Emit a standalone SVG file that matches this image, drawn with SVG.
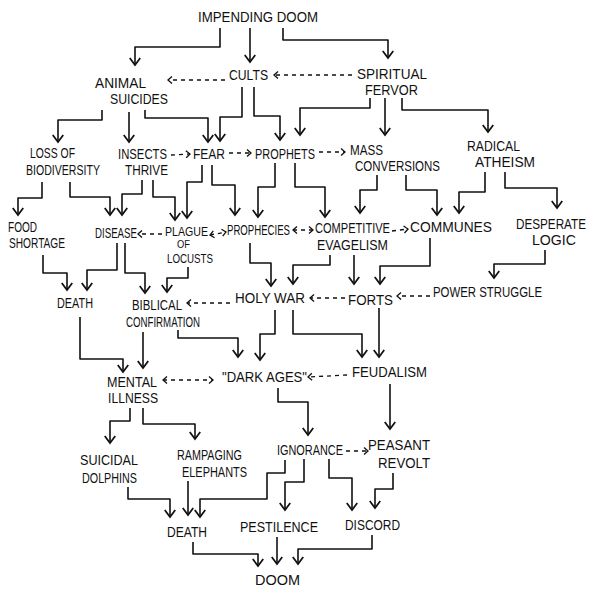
<svg xmlns="http://www.w3.org/2000/svg" width="600" height="602" viewBox="0 0 600 602">
<style>
text{font-family:"Liberation Sans","DejaVu Sans",sans-serif;font-size:14px;fill:#111;}
.s{font-size:13px;}
.xs{font-size:11px;}
.c{fill:none;stroke:#111;stroke-width:1.6;stroke-linejoin:round;marker-end:url(#ah);}
.d{fill:none;stroke:#111;stroke-width:1.3;stroke-dasharray:4 4;marker-end:url(#sh);}
.dd{marker-start:url(#sh);}
</style>
<defs>
<marker id="ah" markerUnits="userSpaceOnUse" markerWidth="14" markerHeight="14" viewBox="-8 -6 10 12" refX="0" refY="0" orient="auto" overflow="visible"><path d="M-6,-4.5 L0,0 L-6,4.5" fill="none" stroke="#111" stroke-width="1.5"/></marker>
<marker id="sh" markerUnits="userSpaceOnUse" markerWidth="10" markerHeight="10" viewBox="-6 -5 8 10" refX="0" refY="0" orient="auto-start-reverse" overflow="visible"><path d="M-4,-3.5 L0,0 L-4,3.5" fill="none" stroke="#111" stroke-width="1.3"/></marker>
</defs>
<rect width="600" height="602" fill="#fff"/>
<g id="connectors">
<path class="c" d="M220,28 V47 H135 V65"/>
<path class="c" d="M250,28 V62"/>
<path class="c" d="M283,28 V40 H388 V58"/>
<path class="c" d="M102,110 V120 H58 V142"/>
<path class="c" d="M129,112 V142"/>
<path class="c" d="M145,110 V118 H208 V142"/>
<path class="c" d="M242,87 V117 H220 V141"/>
<path class="c" d="M254,87 V116 H280 V140"/>
<path class="c" d="M370,98 V108 H300 V135"/>
<path class="c" d="M385,98 V135"/>
<path class="c" d="M402,98 V110 H488 V132"/>
<path class="c" d="M42,182 V198 H18 V215"/>
<path class="c" d="M70,182 V197 H110 V215"/>
<path class="c" d="M142,180 V194 H122 V215"/>
<path class="c" d="M153,180 V197 H175 V220"/>
<path class="c" d="M202,165 V182 H187 V218"/>
<path class="c" d="M212,165 V185 H235 V215"/>
<path class="c" d="M275,163 V187 H258 V217"/>
<path class="c" d="M295,163 V187 H325 V217"/>
<path class="c" d="M377,175 V190 H360 V213"/>
<path class="c" d="M406,175 V190 H437 V215"/>
<path class="c" d="M485,172 V192 H459 V213"/>
<path class="c" d="M505,172 V188 H557 V208"/>
<path class="c" d="M43,255 V273 H67 V290"/>
<path class="c" d="M117,243 V270 H87 V290"/>
<path class="c" d="M125,243 V273 H145 V293"/>
<path class="c" d="M188,267 V278 H167 V292"/>
<path class="c" d="M250,243 V263 H271 V286"/>
<path class="c" d="M330,255 V265 H293 V284"/>
<path class="c" d="M354,255 V284"/>
<path class="c" d="M430,238 V266 H380 V284"/>
<path class="c" d="M545,250 V264 H494 V278"/>
<path class="c" d="M80,317 V359 H123 V372"/>
<path class="c" d="M143,332 V368"/>
<path class="c" d="M178,330 V338 H238 V357"/>
<path class="c" d="M275,310 V334 H260 V360"/>
<path class="c" d="M293,310 V334 H362 V357"/>
<path class="c" d="M379,308 V357"/>
<path class="c" d="M130,408 V421 H110 V443"/>
<path class="c" d="M143,408 V424 H195 V439"/>
<path class="c" d="M278,388 V402 H308 V435"/>
<path class="c" d="M390,384 V429"/>
<path class="c" d="M128,487 V499 H170 V517"/>
<path class="c" d="M188,481 V515"/>
<path class="c" d="M285,460 V473 H267 V499 H200 V517"/>
<path class="c" d="M304,459 V482 H285 V510"/>
<path class="c" d="M329,459 V478 H352 V510"/>
<path class="c" d="M393,473 V489 H375 V508"/>
<path class="c" d="M193,542 V554 H258 V566"/>
<path class="c" d="M277,537 V564"/>
<path class="c" d="M372,535 V549 H298 V564"/>
<path class="d" d="M352,75 H274"/>
<path class="d" d="M225,80 H168"/>
<path class="d" d="M171,155 L190,154"/>
<path class="d" d="M229,153 H251"/>
<path class="d" d="M319,152 H345"/>
<path class="d" d="M162,234 H138"/>
<path class="d dd" d="M210,235 L226,232"/>
<path class="d dd" d="M293,230 H313"/>
<path class="d" d="M392,231 L408,229"/>
<path class="d" d="M230,303 H187"/>
<path class="d" d="M345,298 H310"/>
<path class="d" d="M430,296 H397"/>
<path class="d dd" d="M163,380 H213"/>
<path class="d" d="M347,375 L308,377"/>
<path class="d" d="M346,451 H368"/>
</g>
<g id="impending-doom"><text x="198" y="22" textLength="120" lengthAdjust="spacingAndGlyphs">IMPENDING DOOM</text></g>
<g id="cults"><text x="229" y="80" textLength="39" lengthAdjust="spacingAndGlyphs">CULTS</text></g>
<g id="animal-suicides"><text x="95" y="88" textLength="51" lengthAdjust="spacingAndGlyphs">ANIMAL</text><text x="110" y="104" textLength="58" lengthAdjust="spacingAndGlyphs">SUICIDES</text></g>
<g id="spiritual-fervor"><text x="357" y="79" textLength="70" lengthAdjust="spacingAndGlyphs">SPIRITUAL</text><text x="365" y="95" textLength="53" lengthAdjust="spacingAndGlyphs">FERVOR</text></g>
<g id="loss-of-biodiversity"><text x="30" y="158" textLength="45" lengthAdjust="spacingAndGlyphs">LOSS OF</text><text x="26" y="175" textLength="74" lengthAdjust="spacingAndGlyphs">BIODIVERSITY</text></g>
<g id="insects-thrive"><text x="118" y="159" textLength="49" lengthAdjust="spacingAndGlyphs">INSECTS</text><text x="125" y="175" textLength="43" lengthAdjust="spacingAndGlyphs">THRIVE</text></g>
<g id="fear"><text x="193" y="159" textLength="32" lengthAdjust="spacingAndGlyphs">FEAR</text></g>
<g id="prophets"><text x="255" y="159" textLength="60" lengthAdjust="spacingAndGlyphs">PROPHETS</text></g>
<g id="mass-conversions"><text x="350" y="155" textLength="33" lengthAdjust="spacingAndGlyphs">MASS</text><text x="355" y="171" textLength="85" lengthAdjust="spacingAndGlyphs">CONVERSIONS</text></g>
<g id="radical-atheism"><text x="467" y="151" textLength="53" lengthAdjust="spacingAndGlyphs">RADICAL</text><text x="475" y="167" textLength="60" lengthAdjust="spacingAndGlyphs">ATHEISM</text></g>
<g id="food-shortage"><text x="8" y="232" textLength="29" lengthAdjust="spacingAndGlyphs">FOOD</text><text x="9" y="248" textLength="56" lengthAdjust="spacingAndGlyphs">SHORTAGE</text></g>
<g id="disease"><text x="95" y="238" textLength="42" lengthAdjust="spacingAndGlyphs">DISEASE</text></g>
<g id="plague-of-locusts"><text class="s" x="165" y="236" textLength="43" lengthAdjust="spacingAndGlyphs">PLAGUE</text><text class="xs" x="177" y="248" textLength="13" lengthAdjust="spacingAndGlyphs">OF</text><text class="s" x="167" y="263" textLength="46" lengthAdjust="spacingAndGlyphs">LOCUSTS</text></g>
<g id="prophecies"><text x="227" y="235" textLength="63" lengthAdjust="spacingAndGlyphs">PROPHECIES</text></g>
<g id="competitive-evagelism"><text x="315" y="233" textLength="75" lengthAdjust="spacingAndGlyphs">COMPETITIVE</text><text x="317" y="250" textLength="71" lengthAdjust="spacingAndGlyphs">EVAGELISM</text></g>
<g id="communes"><text x="410" y="232" textLength="82" lengthAdjust="spacingAndGlyphs">COMMUNES</text></g>
<g id="desperate-logic"><text x="516" y="229" textLength="70" lengthAdjust="spacingAndGlyphs">DESPERATE</text><text x="532" y="245" textLength="44" lengthAdjust="spacingAndGlyphs">LOGIC</text></g>
<g id="death-1"><text x="57" y="308" textLength="36" lengthAdjust="spacingAndGlyphs">DEATH</text></g>
<g id="biblical-confirmation"><text x="132" y="310" textLength="50" lengthAdjust="spacingAndGlyphs">BIBLICAL</text><text x="126" y="327" textLength="74" lengthAdjust="spacingAndGlyphs">CONFIRMATION</text></g>
<g id="holy-war"><text x="235" y="303" textLength="70" lengthAdjust="spacingAndGlyphs">HOLY WAR</text></g>
<g id="forts"><text x="348" y="305" textLength="45" lengthAdjust="spacingAndGlyphs">FORTS</text></g>
<g id="power-struggle"><text x="433" y="297" textLength="109" lengthAdjust="spacingAndGlyphs">POWER STRUGGLE</text></g>
<g id="mental-illness"><text x="107" y="387" textLength="50" lengthAdjust="spacingAndGlyphs">MENTAL</text><text x="108" y="403" textLength="50" lengthAdjust="spacingAndGlyphs">ILLNESS</text></g>
<g id="dark-ages"><text x="222" y="382" textLength="85" lengthAdjust="spacingAndGlyphs">"DARK AGES"</text></g>
<g id="feudalism"><text x="352" y="377" textLength="75" lengthAdjust="spacingAndGlyphs">FEUDALISM</text></g>
<g id="suicidal-dolphins"><text x="80" y="465" textLength="58" lengthAdjust="spacingAndGlyphs">SUICIDAL</text><text x="82" y="483" textLength="55" lengthAdjust="spacingAndGlyphs">DOLPHINS</text></g>
<g id="rampaging-elephants"><text x="177" y="460" textLength="65" lengthAdjust="spacingAndGlyphs">RAMPAGING</text><text x="182" y="477" textLength="65" lengthAdjust="spacingAndGlyphs">ELEPHANTS</text></g>
<g id="ignorance"><text x="277" y="455" textLength="66" lengthAdjust="spacingAndGlyphs">IGNORANCE</text></g>
<g id="peasant-revolt"><text x="368" y="450" textLength="62" lengthAdjust="spacingAndGlyphs">PEASANT</text><text x="378" y="468" textLength="52" lengthAdjust="spacingAndGlyphs">REVOLT</text></g>
<g id="death-2"><text x="167" y="537" textLength="40" lengthAdjust="spacingAndGlyphs">DEATH</text></g>
<g id="pestilence"><text x="240" y="532" textLength="78" lengthAdjust="spacingAndGlyphs">PESTILENCE</text></g>
<g id="discord"><text x="345" y="530" textLength="55" lengthAdjust="spacingAndGlyphs">DISCORD</text></g>
<g id="doom"><text x="255" y="585" textLength="45" lengthAdjust="spacingAndGlyphs">DOOM</text></g>
</svg>
